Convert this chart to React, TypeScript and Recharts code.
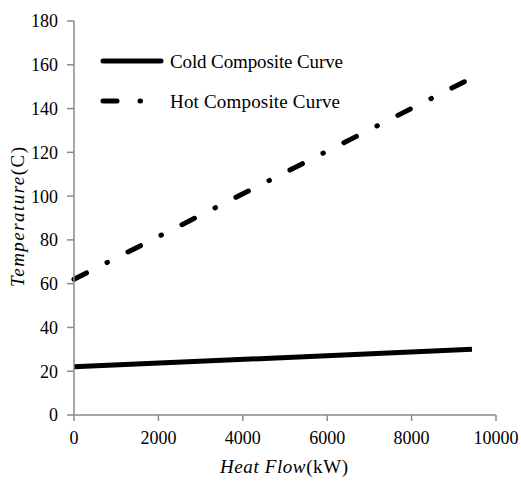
import { LineChart, Line, XAxis, YAxis } from "recharts";

const heatFlow = [0, 9430];
const coldTemp = [22, 30];
const hotTemp = [62, 154];
const xTicks = [0, 2000, 4000, 6000, 8000, 10000];
const yTicks = [0, 20, 40, 60, 80, 100, 120, 140, 160, 180];
const seriesNames = ["Cold Composite Curve", "Hot Composite Curve"];

const coldData = heatFlow.map((q, i) => ({ q, t: coldTemp[i] }));
const hotData = heatFlow.map((q, i) => ({ q, t: hotTemp[i] }));

const FONT = "Liberation Serif, Times New Roman, serif";
const AXIS = "#8a8a8a";
const HOT_DASH = "14 23 0.5 23";

function XTick({ x, y, payload }: any) {
  return (
    <text x={x} y={y} dy="0.71em" textAnchor="middle" style={{ fontFamily: FONT }} fontSize={18} fill="#000">
      {payload.value}
    </text>
  );
}

function YTick({ x, y, payload }: any) {
  return (
    <text x={x} y={y} dy="0.355em" textAnchor="end" style={{ fontFamily: FONT }} fontSize={18} fill="#000">
      {payload.value}
    </text>
  );
}

// legend sits inside the plot, top-left, drawn as an overlay
function LegendOverlay() {
  return (
    <svg width={521} height={487} style={{ position: "absolute", left: 0, top: 0, pointerEvents: "none" }}>
      <line x1={103} y1={61} x2={161} y2={61} stroke="#000" strokeWidth={5} strokeLinecap="round" />
      <text x={170} y={68} style={{ fontFamily: FONT }} fontSize={19} fill="#000" textLength={173}>
        {seriesNames[0]}
      </text>
      <line x1={103} y1={101} x2={143} y2={101} stroke="#000" strokeWidth={5} strokeLinecap="round" strokeDasharray={HOT_DASH} />
      <text x={170} y={108} style={{ fontFamily: FONT }} fontSize={19} fill="#000" textLength={170}>
        {seriesNames[1]}
      </text>
    </svg>
  );
}

export default function App() {
  return (
    <div style={{ position: "fixed", left: 0, top: 0, width: 521, height: 487, background: "#fff" }}>
      <LineChart width={521} height={487} margin={{ top: 21, right: 25, bottom: 42, left: 0 }}>
        <XAxis
          type="number"
          dataKey="q"
          domain={[0, 10000]}
          ticks={xTicks}
          stroke={AXIS}
          strokeWidth={1.5}
          tickSize={6}
          tickMargin={10}
          height={30}
          tick={<XTick />}
          label={() => (
            <text x={284} y={473} textAnchor="middle" style={{ fontFamily: FONT }} fontSize={19} fill="#000" textLength={128}>
              <tspan fontStyle="italic">Heat Flow</tspan>
              <tspan>(kW)</tspan>
            </text>
          )}
        />
        <YAxis
          type="number"
          dataKey="t"
          domain={[0, 180]}
          ticks={yTicks}
          width={74}
          stroke={AXIS}
          strokeWidth={1.5}
          tickSize={7}
          tickMargin={9}
          tick={<YTick />}
          label={() => (
            <text x={24} y={217} transform="rotate(-90 24 217)" textAnchor="middle" style={{ fontFamily: FONT }} fontSize={19} fill="#000" textLength={140}>
              <tspan fontStyle="italic">Temperature</tspan>
              <tspan>(C)</tspan>
            </text>
          )}
        />
        <Line
          data={coldData}
          dataKey="t"
          name={seriesNames[0]}
          stroke="#000"
          strokeWidth={5}
          dot={false}
          isAnimationActive={false}
        />
        <Line
          data={hotData}
          dataKey="t"
          name={seriesNames[1]}
          stroke="#000"
          strokeWidth={5}
          strokeDasharray={HOT_DASH}
          strokeLinecap="round"
          dot={false}
          isAnimationActive={false}
        />
      </LineChart>
      <LegendOverlay />
    </div>
  );
}
